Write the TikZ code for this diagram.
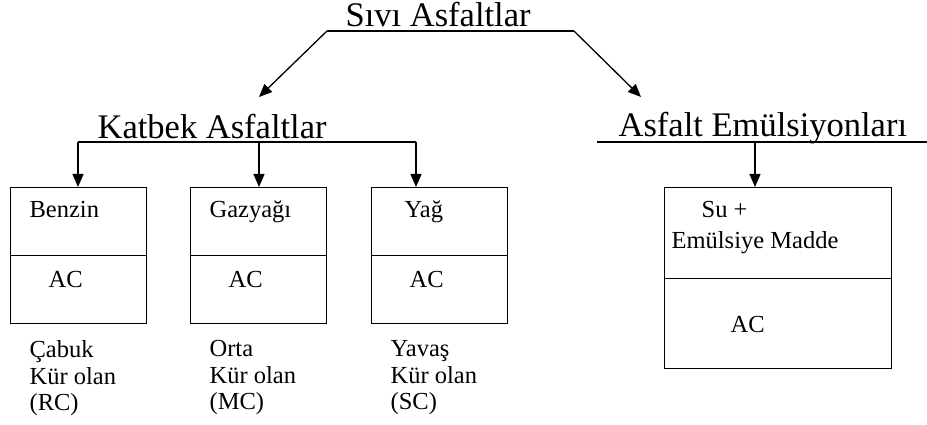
\documentclass[tikz,border=0pt]{standalone}
\usepackage{fontspec}
\setmainfont{Liberation Serif}
\usetikzlibrary{arrows.meta}
\begin{document}
\begin{tikzpicture}[x=1pt,y=-1pt,line width=1.3pt,
  big/.style={font=\fontsize{34.5}{36}\selectfont,anchor=base west,inner sep=0pt},
  txt/.style={font=\fontsize{24.5}{26.5}\selectfont,anchor=base west,inner sep=0pt,align=left},
  part/.style={draw,rectangle,inner sep=0pt,anchor=north west},
  arr/.style={-{Triangle[length=13pt,width=11pt]}}]
\useasboundingbox (0,0) rectangle (927,425);
% titles
\node[big] (sivi) at (345,27) {Sıvı Asfaltlar};
\node[big] (katbek) at (97,139) {Katbek Asfaltlar};
\node[big] (emul) at (618,137) {Asfalt Emülsiyonları};
% top bar
\coordinate (tl) at (327,31);
\coordinate (tr) at (574,31);
\draw (tl) -- (tr);
% left bar
\coordinate (kl) at (78,142);
\coordinate (km) at (259,142);
\coordinate (kr) at (416,142);
\draw (kl) -- (kr);
% right bar
\coordinate (el) at (597,142);
\coordinate (em) at (755,142);
\coordinate (er) at (927,142);
\draw (el) -- (er);
% boxes
\node[part,minimum width=136pt,minimum height=68pt] (b1t) at (10,187) {};
\node[part,minimum width=136pt,minimum height=68pt] (b1b) at (10,255) {};
\node[part,minimum width=136pt,minimum height=68pt] (b2t) at (190,187) {};
\node[part,minimum width=136pt,minimum height=68pt] (b2b) at (190,255) {};
\node[part,minimum width=136pt,minimum height=68pt] (b3t) at (371,187) {};
\node[part,minimum width=136pt,minimum height=68pt] (b3b) at (371,255) {};
\node[part,minimum width=227pt,minimum height=91pt] (b4t) at (664,187) {};
\node[part,minimum width=227pt,minimum height=90pt] (b4b) at (664,278) {};
% arrows
\draw[arr] (tl) -- (259,97) coordinate (katTip);
\draw[arr] (tr) -- (641,97) coordinate (emTip);
\draw[arr] (kl) -- (kl |- b1t.north);
\draw[arr] (km) -- (km |- b2t.north);
\draw[arr] (kr) -- (kr |- b3t.north);
\draw[arr] (em) -- (em |- b4t.north);
% box texts
\node[txt] (t1) at (29,218) {Benzin};
\node[txt] (a1) at (48,287) {AC};
\node[txt] (t2) at (209,218) {Gazyağı};
\node[txt] (a2) at (228,287) {AC};
\node[txt] (t3) at (404,218) {Yağ};
\node[txt] (a3) at (409,287) {AC};
\node[txt] (t4a) at (701,218) {Su +};
\node[txt] (t4b) at (671,248) {Emülsiye Madde};
\node[txt] (a4) at (730,332) {AC};
% bottom labels
\node[txt,anchor=north west] (l1) at (29,340) {Çabuk\\Kür olan\\(RC)};
\node[txt,anchor=north west] (l2) at (209,340) {Orta\\Kür olan\\(MC)};
\node[txt,anchor=north west] (l3) at (390,340) {Yavaş\\Kür olan\\(SC)};
\end{tikzpicture}
\end{document}
